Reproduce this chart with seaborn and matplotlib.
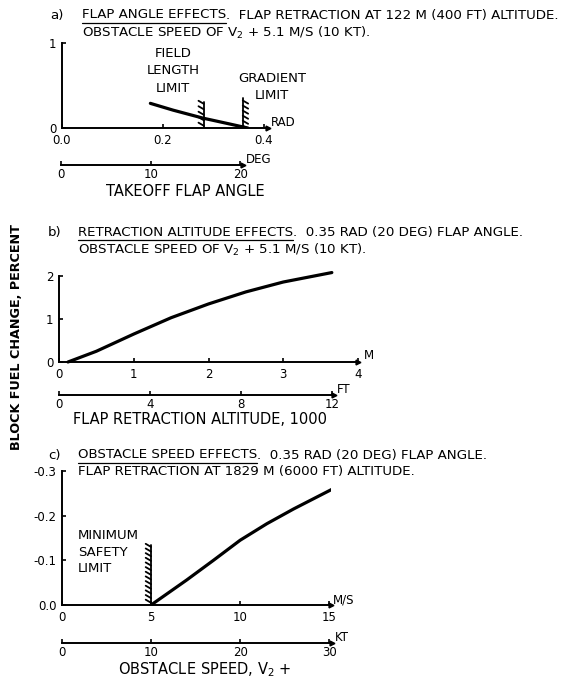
import numpy as np
import pandas as pd
import matplotlib
matplotlib.use('Agg')
import matplotlib.pyplot as plt
import matplotlib.patheffects as pe
from matplotlib.ticker import FormatStrFormatter
import seaborn as sns

# Data

# a) flap angle effects
flap_rad = [0.175, 0.22, 0.28, 0.33, 0.368]
flap_fuel = [0.29, 0.21, 0.115, 0.05, 0.0]
field_limit_x = [0.281, 0.281]
field_limit_y = [0.0, 0.31]
gradient_limit_x = [0.358, 0.358]
gradient_limit_y = [0.35, 0.0]
a_xticks = [0.0, 0.2, 0.4]
a_yticks = [0, 1]
a_deg_ticks = [0, 10, 20]

# b) retraction altitude effects
alt_km = [0.12, 0.5, 1.0, 1.5, 2.0, 2.5, 3.0, 3.65]
alt_fuel = [0.0, 0.25, 0.65, 1.03, 1.35, 1.63, 1.86, 2.08]
b_xticks = [0, 1, 2, 3, 4]
b_yticks = [0, 1, 2]
b_ft_ticks = [0, 4, 8, 12]

# c) obstacle speed effects
speed_ms = [5.0, 6.0, 7.0, 8.5, 10.0, 11.5, 13.0, 15.2]
speed_fuel = [0.0, -0.028, -0.056, -0.100, -0.145, -0.182, -0.215, -0.260]
safety_limit_x = [5.0, 5.0]
safety_limit_y = [0.0, -0.135]
c_xticks = [0, 5, 10, 15]
c_yticks = [0.0, -0.1, -0.2, -0.3]
c_kt_ticks = [0, 10, 20, 30]

sns.set_style('ticks')
plt.rcParams['font.family'] = ['DejaVu Sans']
plt.rcParams['axes.unicode_minus'] = False
for k in ['text.color', 'axes.labelcolor', 'xtick.color', 'ytick.color', 'axes.edgecolor']:
    plt.rcParams[k] = 'black'

W, H = 572, 682
fig = plt.figure(figsize=(W / 100, H / 100), dpi=100)
FS_TITLE = 9.6
FS_TICK = 8.5
FS_LABEL = 10.5
FS_NOTE = 9.5
LW_AX = 1.4
LW_DATA = 2.3


def axes_px(x0, yb, x1, yt):
    return fig.add_axes([x0 / W, 1 - yb / H, (x1 - x0) / W, (yb - yt) / H])


def style_main(ax):
    sns.despine(ax=ax)
    ax.set_xlabel('')
    ax.set_ylabel('')
    for s in ['left', 'bottom']:
        ax.spines[s].set_linewidth(LW_AX)
    ax.tick_params(direction='in', length=3, width=1.2, labelsize=FS_TICK, pad=4)
    ax.patch.set_alpha(0)
    ax.plot(1, 0, '>', color='black', ms=3.5, transform=ax.transAxes, clip_on=False)


def unit_label(ax, s, dx=2, dy=-1):
    ax.annotate(s, xy=(1, 0), xycoords='axes fraction', xytext=(dx, dy),
                textcoords='offset points', ha='left', va='bottom', fontsize=FS_TICK)


def scale_axis(x0, y, x1, xlim, ticks, unit):
    ax = axes_px(x0, y, x1, y - 0.5)
    ax.set_xlim(*xlim)
    ax.set_xticks(ticks)
    ax.set_yticks([])
    for s in ['left', 'right', 'top']:
        ax.spines[s].set_visible(False)
    ax.spines['bottom'].set_linewidth(LW_AX)
    ax.tick_params(direction='in', length=3, width=1.2, labelsize=FS_TICK, pad=2)
    ax.patch.set_alpha(0)
    ax.plot(1, 0, '>', color='black', ms=3.5, transform=ax.transAxes, clip_on=False)
    unit_label(ax, unit)
    return ax


def ftext(x, y, s, **kw):
    kw.setdefault('fontsize', FS_TITLE)
    kw.setdefault('va', 'center')
    return fig.text(x / W, 1 - y / H, s, **kw)


def title(x_lbl, x0, y, lbl, under, rest, line2, gap=17):
    ftext(x_lbl, y, lbl)
    t = ftext(x0, y, under)
    fig.canvas.draw()
    r = fig.canvas.get_renderer()
    bb = t.get_window_extent(r)
    fig.add_artist(plt.Line2D([bb.x0 / W, bb.x1 / W], [(bb.y0 - 1) / H] * 2,
                              color='black', lw=0.9))
    ftext(bb.x1, y, rest)
    ftext(x0, y + gap, line2)


def limit_line(ax, x, y, side):
    df = pd.DataFrame({'x': x, 'y': y})
    sns.lineplot(data=df, x='x', y='y', ax=ax, color='black', lw=1.3,
                 estimator=None, sort=False,
                 path_effects=[pe.withTickedStroke(angle=side, spacing=3.2, length=1.4)])


# ---------- panel a ----------
title(50, 82, 15, 'a)', 'FLAP ANGLE EFFECTS',
      '.  FLAP RETRACTION AT 122 M (400 FT) ALTITUDE.',
      'OBSTACLE SPEED OF V$_2$ + 5.1 M/S (10 KT).', gap=18)
ax_a = axes_px(62, 128, 268, 43)
sns.lineplot(x=flap_rad, y=flap_fuel, ax=ax_a, color='black', lw=LW_DATA)
limit_line(ax_a, field_limit_x, field_limit_y, 60)
limit_line(ax_a, gradient_limit_x, gradient_limit_y, 60)
ax_a.set_xlim(0, 0.408)
ax_a.set_ylim(0, 1)
ax_a.set_xticks(a_xticks)
ax_a.set_yticks(a_yticks)
ax_a.xaxis.set_major_formatter(FormatStrFormatter('%.1f'))
style_main(ax_a)
unit_label(ax_a, 'RAD')
ftext(173, 71, 'FIELD\nLENGTH\nLIMIT', ha='center', linespacing=1.45, fontsize=FS_NOTE)
ftext(272, 87, 'GRADIENT\nLIMIT', ha='center', linespacing=1.45, fontsize=FS_NOTE)
scale_axis(61, 165, 243, (0, 20.3), a_deg_ticks, 'DEG')
ftext(185, 191, 'TAKEOFF FLAP ANGLE', ha='center', fontsize=FS_LABEL)

# ---------- panel b ----------
title(48, 78, 233, 'b)', 'RETRACTION ALTITUDE EFFECTS',
      '.  0.35 RAD (20 DEG) FLAP ANGLE.',
      'OBSTACLE SPEED OF V$_2$ + 5.1 M/S (10 KT).')
ax_b = axes_px(59, 362, 358, 276)
sns.lineplot(x=alt_km, y=alt_fuel, ax=ax_b, color='black', lw=LW_DATA, clip_on=False)
ax_b.set_xlim(0, 4)
ax_b.set_ylim(0, 2)
ax_b.set_xticks(b_xticks)
ax_b.set_yticks(b_yticks)
style_main(ax_b)
unit_label(ax_b, 'M', dx=4, dy=0)
scale_axis(59, 395, 334, (0, 12.1), b_ft_ticks, 'FT')
ftext(200, 420, 'FLAP RETRACTION ALTITUDE, 1000', ha='center', fontsize=FS_LABEL)

# ---------- panel c ----------
title(48, 78, 455, 'c)', 'OBSTACLE SPEED EFFECTS',
      '.  0.35 RAD (20 DEG) FLAP ANGLE.',
      'FLAP RETRACTION AT 1829 M (6000 FT) ALTITUDE.')
ax_c = axes_px(62, 605, 331, 471)
sns.lineplot(x=speed_ms, y=speed_fuel, ax=ax_c, color='black', lw=LW_DATA)
limit_line(ax_c, safety_limit_x, safety_limit_y, 60)
ax_c.set_xlim(0, 15.1)
ax_c.set_ylim(0, -0.3)
ax_c.set_xticks(c_xticks)
ax_c.set_yticks(c_yticks)
ax_c.yaxis.set_major_formatter(FormatStrFormatter('%.1f'))
style_main(ax_c)
unit_label(ax_c, 'M/S', dx=1, dy=-1)
ftext(78, 552, 'MINIMUM\nSAFETY\nLIMIT', ha='left', linespacing=1.35, fontsize=FS_NOTE)
scale_axis(62, 643, 332, (0, 30.3), c_kt_ticks, 'KT')
ftext(205, 670, 'OBSTACLE SPEED, V$_2$ +', ha='center', fontsize=FS_LABEL)

# shared y label
ftext(17, 337, 'BLOCK FUEL CHANGE, PERCENT', rotation=90, ha='center',
      fontsize=9.2, fontweight='bold')

fig.savefig('out.png', dpi=100)
